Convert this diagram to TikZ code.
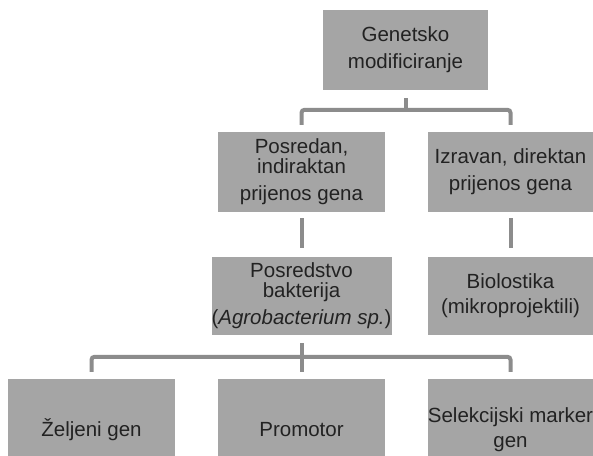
\documentclass[tikz,border=0pt]{standalone}
\usepackage{fontspec}
\setmainfont{Liberation Sans}
\definecolor{boxgray}{HTML}{A5A5A5}
\definecolor{linegray}{HTML}{8C8C8C}
\definecolor{txt}{HTML}{222222}
\begin{document}
\begin{tikzpicture}[x=1pt,y=-1pt,
  box/.style={fill=boxgray,draw=none,inner sep=0pt,align=center,text=txt,
    font=\fontsize{20.5}{27}\selectfont},
  conn/.style={draw=linegray,line width=4pt,rounded corners=3pt}]
\useasboundingbox (0,0) rectangle (593,455);
\clip (0,0) rectangle (593,455);
\fill[white] (0,0) rectangle (593,455);
% level 1
\node[box,minimum width=165pt,minimum height=80pt] (top) at (405.5,50) {Genetsko\\modificiranje};
% level 2
\node[box,minimum width=167pt,minimum height=80pt] (l2a) at (301.5,172) {Posredan,\\[-7pt]indiraktan\\prijenos gena};
\node[box,minimum width=165pt,minimum height=80pt] (l2b) at (510.5,172) {Izravan, direktan\\prijenos gena};
% level 3
\node[box,minimum width=167pt,minimum height=78pt] (l3a) at (301.5,296) {Posredstvo\\[-7pt]bakterija\\(\textit{Agrobacterium sp.})};
\node[box,minimum width=165pt,minimum height=78pt] (l3b) at (510.5,296) {Biolostika\\[-2pt](mikroprojektili)};
% level 4
\node[box,minimum width=167pt,minimum height=102pt] (b1) at (91.5,430) {Željeni gen};
\node[box,minimum width=167pt,minimum height=102pt] (b2) at (301.5,430) {Promotor};
\node[box,minimum width=165pt,minimum height=102pt] (b3) at (510.5,430) {Selekcijski marker\\[-2pt]gen};
% connectors top
\coordinate (d1) at ([yshift=7pt]l2a.north);
\coordinate (d2) at ([yshift=7pt]l2b.north);
\coordinate (bar1) at ([yshift=22pt]l2a.north);
\draw[conn] (d1) -- (bar1) -- (bar1 -| d2) -- (d2);
\draw[conn] ([yshift=-8pt]top.south) -- (bar1 -| top.south);
% level 2 to 3
\draw[conn] ([yshift=-6pt]l2a.south) -- ([yshift=9pt]l3a.north);
\draw[conn] ([yshift=-6pt]l2b.south) -- ([yshift=9pt]l3b.north);
% lower connectors
\coordinate (e1) at ([yshift=7pt]b1.north);
\coordinate (e3) at ([yshift=7pt]b3.north);
\coordinate (bar2) at ([yshift=22pt]b1.north);
\draw[conn] (e1) -- (bar2) -- (bar2 -| e3) -- (e3);
\draw[conn] ([yshift=-8pt]l3a.south) -- ([yshift=7pt]b2.north);
\end{tikzpicture}
\end{document}
